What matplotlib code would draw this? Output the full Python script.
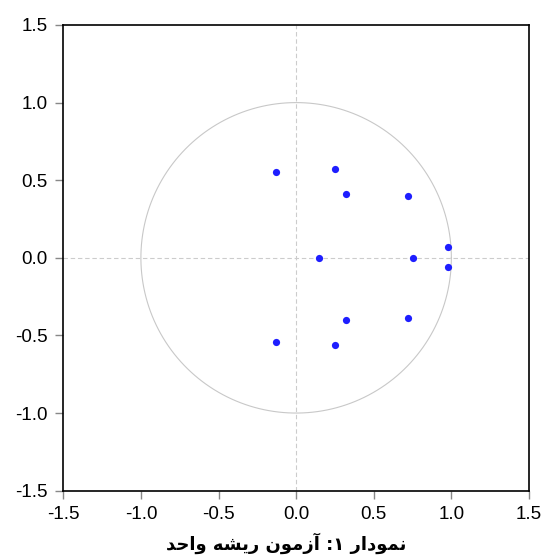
import matplotlib.pyplot as plt
import numpy as np

# inverse roots
re_part = [-0.13, -0.13, 0.25, 0.25, 0.32, 0.32, 0.72, 0.72, 0.15, 0.75, 0.98, 0.98]
im_part = [0.55, -0.54, 0.57, -0.56, 0.41, -0.40, 0.40, -0.39, 0.00, 0.00, 0.07, -0.06]
ticks = [-1.5, -1.0, -0.5, 0.0, 0.5, 1.0, 1.5]
tick_labels = ["-1.5", "-1.0", "-0.5", "0.0", "0.5", "1.0", "1.5"]

# caption "نمودار ۱: آزمون ریشه واحد", shaped by hand (visual order, presentation forms)
caption = ("\uFEAA\uFEA3\uFE8D\uFEED" + " "
           + "\uFEEA\uFEB8\uFEF3\uFEAD" + " "
           + "\uFEE5\uFEEE\uFEE3\uFEAF\uFE81" + " "
           + ":\u06F1" + " "
           + "\uFEAD\uFE8D\uFEA9\uFEEE\uFEE4\uFEE7")

plt.rcParams['font.family'] = ['Liberation Sans', 'DejaVu Sans']

fig = plt.figure(figsize=(5.45, 5.6), dpi=100)
ax = fig.add_axes([0.1161, 0.1238, 0.8545, 0.8316])

# unit circle
theta = np.linspace(0, 2 * np.pi, 400)
ax.plot(np.cos(theta), np.sin(theta), color="#c8c8c8", lw=0.8, zorder=1)
ax.axhline(0, color="#cccccc", lw=0.8, ls=(0, (4, 2.5)), zorder=1)
ax.axvline(0, color="#cccccc", lw=0.8, ls=(0, (4, 2.5)), zorder=1)

ax.plot(re_part, im_part, ls="none", marker="o", ms=5.2, color="#1e1eff",
        markeredgewidth=0, zorder=3)

ax.set_xlim(-1.5, 1.5)
ax.set_ylim(-1.5, 1.5)
ax.set_xticks(ticks)
ax.set_xticklabels(tick_labels)
ax.set_yticks(ticks)
ax.set_yticklabels(tick_labels)
ax.tick_params(direction="out", length=6, width=1.0, color="#888888",
               labelsize=13.5, pad=5, top=False, right=False)
for s in ax.spines.values():
    s.set_linewidth(1.2)

fig.text(0.526, 0.03, caption, ha="center", va="center", fontsize=13,
         fontweight="bold", family="DejaVu Sans")

fig.savefig("out.png", dpi=100)
